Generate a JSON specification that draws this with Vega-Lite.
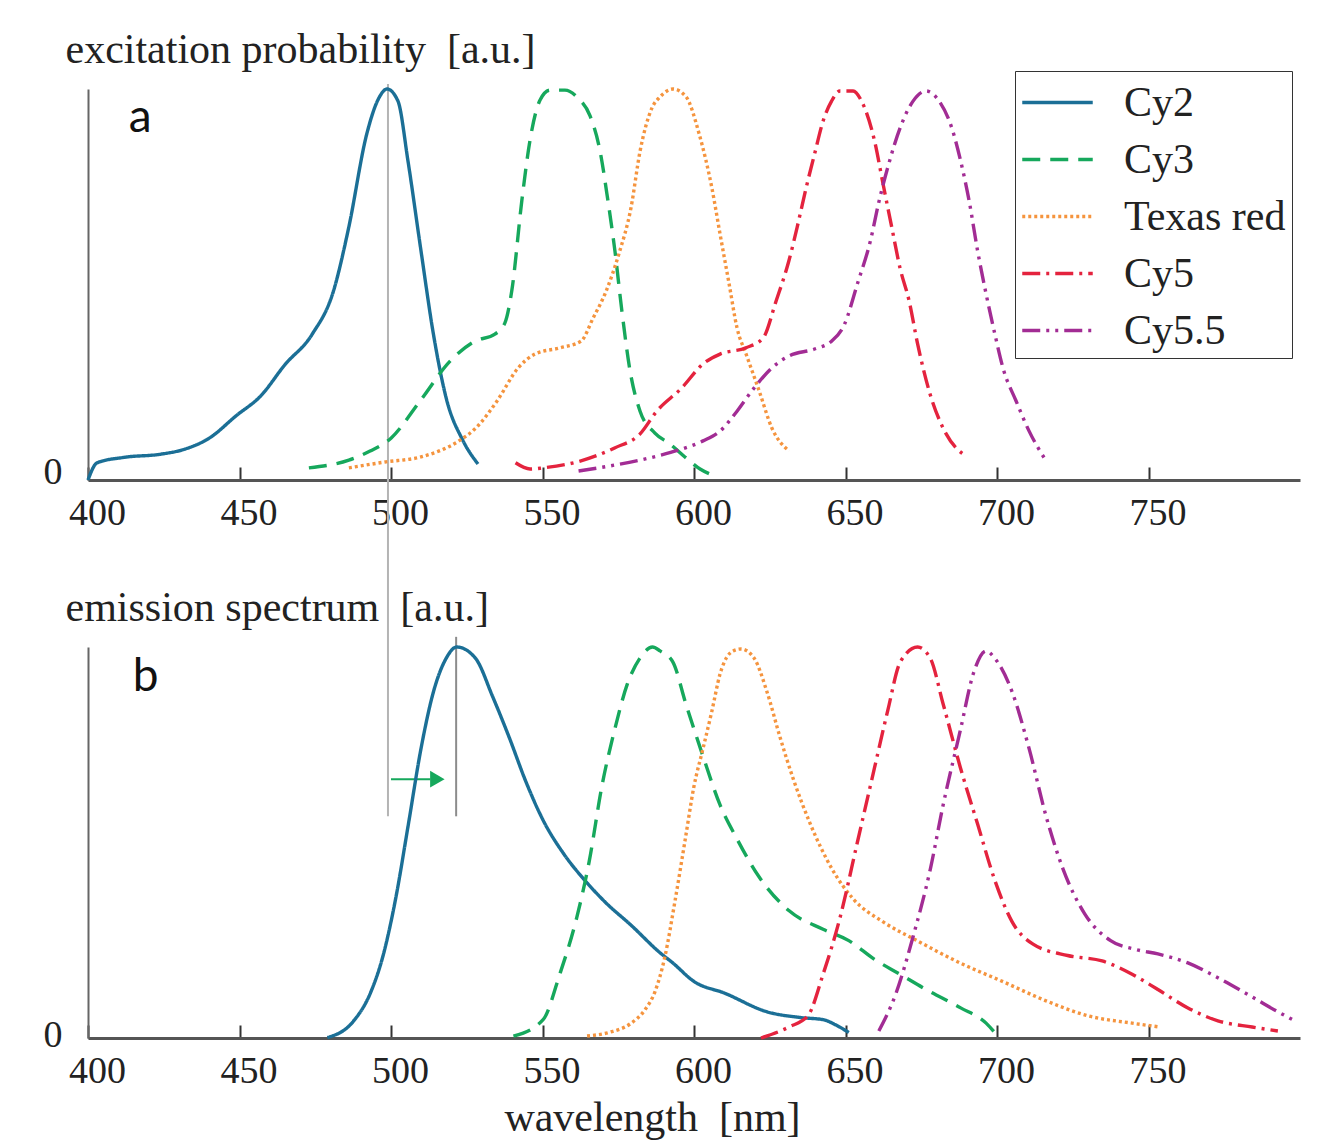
{
  "$schema": "https://vega.github.io/schema/vega-lite/v6.json",
  "background": "white",
  "padding": {"left": 43, "top": 28, "right": 10, "bottom": 10},
  "config": {
    "view": {"stroke": null},
    "font": "Liberation Serif",
    "axis": {"grid": false, "labelFont": "Liberation Serif", "labelFontSize": 38, "labelColor": "#222", "titleFont": "Liberation Serif", "titleFontSize": 42, "titleFontWeight": "normal", "titleColor": "#222"}
  },
  "datasets": {
    "excitation": [
      {"dye": "Cy2", "nm": 400, "v": 0}, {"dye": "Cy2", "nm": 403, "v": 0.044}, {"dye": "Cy2", "nm": 412, "v": 0.058}, {"dye": "Cy2", "nm": 424, "v": 0.066}, {"dye": "Cy2", "nm": 432, "v": 0.079}, {"dye": "Cy2", "nm": 440, "v": 0.107}, {"dye": "Cy2", "nm": 449, "v": 0.165}, {"dye": "Cy2", "nm": 457, "v": 0.215}, {"dye": "Cy2", "nm": 465, "v": 0.295}, {"dye": "Cy2", "nm": 474, "v": 0.373}, {"dye": "Cy2", "nm": 481, "v": 0.483}, {"dye": "Cy2", "nm": 486, "v": 0.644}, {"dye": "Cy2", "nm": 492, "v": 0.885}, {"dye": "Cy2", "nm": 496, "v": 0.977}, {"dye": "Cy2", "nm": 498.7, "v": 1.0}, {"dye": "Cy2", "nm": 502.3, "v": 0.969}, {"dye": "Cy2", "nm": 505.6, "v": 0.816}, {"dye": "Cy2", "nm": 509.9, "v": 0.586}, {"dye": "Cy2", "nm": 514, "v": 0.373}, {"dye": "Cy2", "nm": 518.2, "v": 0.21}, {"dye": "Cy2", "nm": 523.8, "v": 0.1}, {"dye": "Cy2", "nm": 528.7, "v": 0.041},
      {"dye": "Cy3", "nm": 472.9, "v": 0.031}, {"dye": "Cy3", "nm": 486.1, "v": 0.051}, {"dye": "Cy3", "nm": 493.1, "v": 0.074}, {"dye": "Cy3", "nm": 500, "v": 0.107}, {"dye": "Cy3", "nm": 509.6, "v": 0.202}, {"dye": "Cy3", "nm": 519.5, "v": 0.304}, {"dye": "Cy3", "nm": 527.7, "v": 0.355}, {"dye": "Cy3", "nm": 534.3, "v": 0.373}, {"dye": "Cy3", "nm": 537.6, "v": 0.402}, {"dye": "Cy3", "nm": 539.9, "v": 0.486}, {"dye": "Cy3", "nm": 543.2, "v": 0.716}, {"dye": "Cy3", "nm": 545.9, "v": 0.87}, {"dye": "Cy3", "nm": 549.2, "v": 0.972}, {"dye": "Cy3", "nm": 552.5, "v": 0.997}, {"dye": "Cy3", "nm": 557.4, "v": 0.997}, {"dye": "Cy3", "nm": 561.7, "v": 0.977}, {"dye": "Cy3", "nm": 565.7, "v": 0.931}, {"dye": "Cy3", "nm": 569, "v": 0.841}, {"dye": "Cy3", "nm": 571.6, "v": 0.714}, {"dye": "Cy3", "nm": 573.9, "v": 0.586}, {"dye": "Cy3", "nm": 576.2, "v": 0.432}, {"dye": "Cy3", "nm": 578.9, "v": 0.279}, {"dye": "Cy3", "nm": 582.2, "v": 0.176}, {"dye": "Cy3", "nm": 587.1, "v": 0.12}, {"dye": "Cy3", "nm": 592.1, "v": 0.092}, {"dye": "Cy3", "nm": 597, "v": 0.059}, {"dye": "Cy3", "nm": 602, "v": 0.028}, {"dye": "Cy3", "nm": 605.9, "v": 0.013},
      {"dye": "Texas red", "nm": 486.1, "v": 0.031}, {"dye": "Texas red", "nm": 498, "v": 0.046}, {"dye": "Texas red", "nm": 509.9, "v": 0.059}, {"dye": "Texas red", "nm": 522.4, "v": 0.1}, {"dye": "Texas red", "nm": 528, "v": 0.133}, {"dye": "Texas red", "nm": 535, "v": 0.202}, {"dye": "Texas red", "nm": 541.9, "v": 0.286}, {"dye": "Texas red", "nm": 547.5, "v": 0.322}, {"dye": "Texas red", "nm": 555.8, "v": 0.338}, {"dye": "Texas red", "nm": 562.7, "v": 0.355}, {"dye": "Texas red", "nm": 566.7, "v": 0.414}, {"dye": "Texas red", "nm": 571, "v": 0.483}, {"dye": "Texas red", "nm": 575.2, "v": 0.578}, {"dye": "Texas red", "nm": 579.2, "v": 0.696}, {"dye": "Texas red", "nm": 582.2, "v": 0.841}, {"dye": "Texas red", "nm": 586.1, "v": 0.951}, {"dye": "Texas red", "nm": 588.8, "v": 0.98}, {"dye": "Texas red", "nm": 593.1, "v": 1.0}, {"dye": "Texas red", "nm": 597.4, "v": 0.98}, {"dye": "Texas red", "nm": 601.7, "v": 0.885}, {"dye": "Texas red", "nm": 605.9, "v": 0.747}, {"dye": "Texas red", "nm": 608.6, "v": 0.629}, {"dye": "Texas red", "nm": 611.6, "v": 0.501}, {"dye": "Texas red", "nm": 614.2, "v": 0.389}, {"dye": "Texas red", "nm": 617.2, "v": 0.322}, {"dye": "Texas red", "nm": 621.5, "v": 0.228}, {"dye": "Texas red", "nm": 625.7, "v": 0.133}, {"dye": "Texas red", "nm": 631.4, "v": 0.074},
      {"dye": "Cy5", "nm": 541.1, "v": 0.044}, {"dye": "Cy5", "nm": 545.9, "v": 0.028}, {"dye": "Cy5", "nm": 550.2, "v": 0.031}, {"dye": "Cy5", "nm": 562.7, "v": 0.049}, {"dye": "Cy5", "nm": 573.8, "v": 0.082}, {"dye": "Cy5", "nm": 582.2, "v": 0.118}, {"dye": "Cy5", "nm": 587.7, "v": 0.176}, {"dye": "Cy5", "nm": 595.9, "v": 0.235}, {"dye": "Cy5", "nm": 603, "v": 0.297}, {"dye": "Cy5", "nm": 608.6, "v": 0.322}, {"dye": "Cy5", "nm": 617.1, "v": 0.338}, {"dye": "Cy5", "nm": 622.8, "v": 0.363}, {"dye": "Cy5", "nm": 627.1, "v": 0.458}, {"dye": "Cy5", "nm": 631.3, "v": 0.56}, {"dye": "Cy5", "nm": 634, "v": 0.645}, {"dye": "Cy5", "nm": 637, "v": 0.747}, {"dye": "Cy5", "nm": 639.8, "v": 0.834}, {"dye": "Cy5", "nm": 642.6, "v": 0.918}, {"dye": "Cy5", "nm": 645.4, "v": 0.969}, {"dye": "Cy5", "nm": 648.2, "v": 0.995}, {"dye": "Cy5", "nm": 652.5, "v": 0.995}, {"dye": "Cy5", "nm": 655.3, "v": 0.969}, {"dye": "Cy5", "nm": 659.6, "v": 0.867}, {"dye": "Cy5", "nm": 662.4, "v": 0.757}, {"dye": "Cy5", "nm": 665.3, "v": 0.645}, {"dye": "Cy5", "nm": 668, "v": 0.542}, {"dye": "Cy5", "nm": 671, "v": 0.458}, {"dye": "Cy5", "nm": 673.8, "v": 0.348}, {"dye": "Cy5", "nm": 677.9, "v": 0.22}, {"dye": "Cy5", "nm": 682.2, "v": 0.133}, {"dye": "Cy5", "nm": 686.5, "v": 0.082}, {"dye": "Cy5", "nm": 690.1, "v": 0.061},
      {"dye": "Cy5.5", "nm": 561.9, "v": 0.023}, {"dye": "Cy5.5", "nm": 572.3, "v": 0.036}, {"dye": "Cy5.5", "nm": 587.7, "v": 0.061}, {"dye": "Cy5.5", "nm": 595.9, "v": 0.079}, {"dye": "Cy5.5", "nm": 603, "v": 0.1}, {"dye": "Cy5.5", "nm": 608.6, "v": 0.125}, {"dye": "Cy5.5", "nm": 614.2, "v": 0.176}, {"dye": "Cy5.5", "nm": 619.8, "v": 0.235}, {"dye": "Cy5.5", "nm": 625.6, "v": 0.286}, {"dye": "Cy5.5", "nm": 631.3, "v": 0.317}, {"dye": "Cy5.5", "nm": 639.8, "v": 0.335}, {"dye": "Cy5.5", "nm": 645.4, "v": 0.355}, {"dye": "Cy5.5", "nm": 649.7, "v": 0.399}, {"dye": "Cy5.5", "nm": 653.9, "v": 0.501}, {"dye": "Cy5.5", "nm": 658.2, "v": 0.611}, {"dye": "Cy5.5", "nm": 661.1, "v": 0.714}, {"dye": "Cy5.5", "nm": 663.9, "v": 0.798}, {"dye": "Cy5.5", "nm": 668, "v": 0.9}, {"dye": "Cy5.5", "nm": 672.3, "v": 0.969}, {"dye": "Cy5.5", "nm": 676.6, "v": 0.995}, {"dye": "Cy5.5", "nm": 680.9, "v": 0.969}, {"dye": "Cy5.5", "nm": 685.1, "v": 0.9}, {"dye": "Cy5.5", "nm": 688, "v": 0.816}, {"dye": "Cy5.5", "nm": 690.8, "v": 0.714}, {"dye": "Cy5.5", "nm": 693.6, "v": 0.586}, {"dye": "Cy5.5", "nm": 696.4, "v": 0.476}, {"dye": "Cy5.5", "nm": 699.3, "v": 0.373}, {"dye": "Cy5.5", "nm": 702, "v": 0.286}, {"dye": "Cy5.5", "nm": 706.3, "v": 0.202}, {"dye": "Cy5.5", "nm": 710.6, "v": 0.125}, {"dye": "Cy5.5", "nm": 716.2, "v": 0.049}
    ],
    "emission": [
      {"dye": "Cy2", "nm": 479, "v": 0.001}, {"dye": "Cy2", "nm": 487.6, "v": 0.043}, {"dye": "Cy2", "nm": 493.2, "v": 0.115}, {"dye": "Cy2", "nm": 497.4, "v": 0.211}, {"dye": "Cy2", "nm": 501.5, "v": 0.355}, {"dye": "Cy2", "nm": 505.7, "v": 0.545}, {"dye": "Cy2", "nm": 509.9, "v": 0.74}, {"dye": "Cy2", "nm": 514, "v": 0.885}, {"dye": "Cy2", "nm": 518.2, "v": 0.971}, {"dye": "Cy2", "nm": 521.7, "v": 1.0}, {"dye": "Cy2", "nm": 527.9, "v": 0.971}, {"dye": "Cy2", "nm": 533.5, "v": 0.874}, {"dye": "Cy2", "nm": 539, "v": 0.769}, {"dye": "Cy2", "nm": 544.6, "v": 0.654}, {"dye": "Cy2", "nm": 550.2, "v": 0.557}, {"dye": "Cy2", "nm": 557.1, "v": 0.47}, {"dye": "Cy2", "nm": 564, "v": 0.403}, {"dye": "Cy2", "nm": 570.9, "v": 0.346}, {"dye": "Cy2", "nm": 579.3, "v": 0.288}, {"dye": "Cy2", "nm": 588.8, "v": 0.218}, {"dye": "Cy2", "nm": 593, "v": 0.192}, {"dye": "Cy2", "nm": 600.1, "v": 0.144}, {"dye": "Cy2", "nm": 610, "v": 0.115}, {"dye": "Cy2", "nm": 624.1, "v": 0.067}, {"dye": "Cy2", "nm": 635.5, "v": 0.052}, {"dye": "Cy2", "nm": 642.6, "v": 0.047}, {"dye": "Cy2", "nm": 646.9, "v": 0.033}, {"dye": "Cy2", "nm": 651.1, "v": 0.014},
      {"dye": "Cy3", "nm": 540.4, "v": 0.005}, {"dye": "Cy3", "nm": 550.2, "v": 0.047}, {"dye": "Cy3", "nm": 555.7, "v": 0.163}, {"dye": "Cy3", "nm": 561.3, "v": 0.308}, {"dye": "Cy3", "nm": 565.4, "v": 0.451}, {"dye": "Cy3", "nm": 569.6, "v": 0.644}, {"dye": "Cy3", "nm": 573.8, "v": 0.788}, {"dye": "Cy3", "nm": 577.9, "v": 0.903}, {"dye": "Cy3", "nm": 582.1, "v": 0.971}, {"dye": "Cy3", "nm": 586.3, "v": 1.0}, {"dye": "Cy3", "nm": 588.8, "v": 0.99}, {"dye": "Cy3", "nm": 593, "v": 0.962}, {"dye": "Cy3", "nm": 597.3, "v": 0.855}, {"dye": "Cy3", "nm": 603, "v": 0.72}, {"dye": "Cy3", "nm": 608.6, "v": 0.596}, {"dye": "Cy3", "nm": 614.2, "v": 0.509}, {"dye": "Cy3", "nm": 621.4, "v": 0.413}, {"dye": "Cy3", "nm": 631.3, "v": 0.326}, {"dye": "Cy3", "nm": 642.6, "v": 0.278}, {"dye": "Cy3", "nm": 651.1, "v": 0.249}, {"dye": "Cy3", "nm": 659.6, "v": 0.201}, {"dye": "Cy3", "nm": 668, "v": 0.163}, {"dye": "Cy3", "nm": 676.6, "v": 0.124}, {"dye": "Cy3", "nm": 688, "v": 0.077}, {"dye": "Cy3", "nm": 696.4, "v": 0.038}, {"dye": "Cy3", "nm": 700.7, "v": 0.0},
      {"dye": "Texas red", "nm": 564.7, "v": 0.005}, {"dye": "Texas red", "nm": 572.3, "v": 0.015}, {"dye": "Texas red", "nm": 578.9, "v": 0.036}, {"dye": "Texas red", "nm": 583.8, "v": 0.072}, {"dye": "Texas red", "nm": 587.1, "v": 0.118}, {"dye": "Texas red", "nm": 590.4, "v": 0.208}, {"dye": "Texas red", "nm": 593.7, "v": 0.349}, {"dye": "Texas red", "nm": 597, "v": 0.503}, {"dye": "Texas red", "nm": 600, "v": 0.644}, {"dye": "Texas red", "nm": 603, "v": 0.741}, {"dye": "Texas red", "nm": 605.9, "v": 0.836}, {"dye": "Texas red", "nm": 608.6, "v": 0.931}, {"dye": "Texas red", "nm": 612.9, "v": 0.99}, {"dye": "Texas red", "nm": 615.5, "v": 0.995}, {"dye": "Texas red", "nm": 619.8, "v": 0.972}, {"dye": "Texas red", "nm": 624.1, "v": 0.885}, {"dye": "Texas red", "nm": 628.4, "v": 0.769}, {"dye": "Texas red", "nm": 632.7, "v": 0.664}, {"dye": "Texas red", "nm": 638.3, "v": 0.549}, {"dye": "Texas red", "nm": 645.5, "v": 0.433}, {"dye": "Texas red", "nm": 652.5, "v": 0.356}, {"dye": "Texas red", "nm": 662.4, "v": 0.297}, {"dye": "Texas red", "nm": 673.6, "v": 0.249}, {"dye": "Texas red", "nm": 687.8, "v": 0.192}, {"dye": "Texas red", "nm": 702, "v": 0.144}, {"dye": "Texas red", "nm": 716.2, "v": 0.095}, {"dye": "Texas red", "nm": 730.4, "v": 0.056}, {"dye": "Texas red", "nm": 744.6, "v": 0.038}, {"dye": "Texas red", "nm": 753.8, "v": 0.028},
      {"dye": "Cy5", "nm": 622.1, "v": 0.0}, {"dye": "Cy5", "nm": 631.3, "v": 0.028}, {"dye": "Cy5", "nm": 637.6, "v": 0.057}, {"dye": "Cy5", "nm": 642.6, "v": 0.163}, {"dye": "Cy5", "nm": 648.2, "v": 0.308}, {"dye": "Cy5", "nm": 653.9, "v": 0.5}, {"dye": "Cy5", "nm": 659.6, "v": 0.692}, {"dye": "Cy5", "nm": 663.9, "v": 0.836}, {"dye": "Cy5", "nm": 668.1, "v": 0.962}, {"dye": "Cy5", "nm": 673.8, "v": 1.0}, {"dye": "Cy5", "nm": 678, "v": 0.971}, {"dye": "Cy5", "nm": 682.2, "v": 0.855}, {"dye": "Cy5", "nm": 687.9, "v": 0.692}, {"dye": "Cy5", "nm": 693.6, "v": 0.547}, {"dye": "Cy5", "nm": 699.3, "v": 0.403}, {"dye": "Cy5", "nm": 705, "v": 0.297}, {"dye": "Cy5", "nm": 711.9, "v": 0.24}, {"dye": "Cy5", "nm": 723.3, "v": 0.211}, {"dye": "Cy5", "nm": 734.7, "v": 0.197}, {"dye": "Cy5", "nm": 744.6, "v": 0.163}, {"dye": "Cy5", "nm": 753.1, "v": 0.124}, {"dye": "Cy5", "nm": 763, "v": 0.077}, {"dye": "Cy5", "nm": 772.9, "v": 0.044}, {"dye": "Cy5", "nm": 784.2, "v": 0.028}, {"dye": "Cy5", "nm": 792.7, "v": 0.018},
      {"dye": "Cy5.5", "nm": 661, "v": 0.018}, {"dye": "Cy5.5", "nm": 666.7, "v": 0.115}, {"dye": "Cy5.5", "nm": 672.3, "v": 0.259}, {"dye": "Cy5.5", "nm": 678, "v": 0.432}, {"dye": "Cy5.5", "nm": 682.2, "v": 0.595}, {"dye": "Cy5.5", "nm": 687.9, "v": 0.787}, {"dye": "Cy5.5", "nm": 692.2, "v": 0.932}, {"dye": "Cy5.5", "nm": 696.4, "v": 0.99}, {"dye": "Cy5.5", "nm": 699.3, "v": 0.971}, {"dye": "Cy5.5", "nm": 705, "v": 0.885}, {"dye": "Cy5.5", "nm": 710.6, "v": 0.74}, {"dye": "Cy5.5", "nm": 716.2, "v": 0.567}, {"dye": "Cy5.5", "nm": 721.8, "v": 0.432}, {"dye": "Cy5.5", "nm": 729, "v": 0.317}, {"dye": "Cy5.5", "nm": 737.5, "v": 0.249}, {"dye": "Cy5.5", "nm": 746, "v": 0.226}, {"dye": "Cy5.5", "nm": 753.1, "v": 0.215}, {"dye": "Cy5.5", "nm": 763, "v": 0.192}, {"dye": "Cy5.5", "nm": 772.9, "v": 0.154}, {"dye": "Cy5.5", "nm": 784.2, "v": 0.105}, {"dye": "Cy5.5", "nm": 792.7, "v": 0.067}, {"dye": "Cy5.5", "nm": 798.3, "v": 0.044}
    ]
  },
  "bounds": "flush",
  "spacing": 167,
  "resolve": {"scale": {"color": "independent", "strokeDash": "independent"}, "legend": {"color": "independent", "strokeDash": "independent"}},
  "vconcat": [
    {
      "width": 1212,
      "height": 391,
      "layer": [
        {
          "data": {"values": [{"nm": 499, "top": 1.013, "bottom": 0}]},
          "mark": {"type": "rule", "color": "#b4b4b4", "strokeWidth": 2},
          "encoding": {"x": {"field": "nm", "type": "quantitative"}, "y": {"field": "top", "type": "quantitative"}, "y2": {"field": "bottom"}}
        },
        {
          "data": {"name": "excitation"},
          "mark": {"type": "line", "strokeWidth": 3.4, "interpolate": "monotone"},
          "encoding": {
            "x": {"field": "nm", "type": "quantitative", "scale": {"domain": [400, 800], "nice": false, "zero": false},
              "axis": {"title": null, "values": [400, 450, 500, 550, 600, 650, 700, 750], "tickSize": -13, "tickColor": "#333", "tickWidth": 2, "labelPadding": 27, "labelOffset": 9, "labelFlush": false, "domainColor": "#555", "domainWidth": 3}},
            "y": {"field": "v", "type": "quantitative", "scale": {"domain": [0, 1]},
              "axis": {"title": "excitation probability\u00a0 [a.u.]", "titleAngle": 0, "titleAlign": "left", "titleBaseline": "middle", "titleX": -23, "titleY": -40, "values": [0], "format": "d", "ticks": false, "labelPadding": 26, "labelOffset": -8, "domainColor": "#666", "domainWidth": 2}},
            "color": {"field": "dye", "type": "nominal", "scale": {"domain": ["Cy2", "Cy3", "Texas red", "Cy5", "Cy5.5"], "range": ["#1b6f96", "#16a85c", "#f5943e", "#e4233e", "#a22c94"]},
              "legend": {"title": null, "orient": "none", "legendX": 927, "legendY": -18, "symbolType": "M-1.5,0H1.5", "symbolSize": 2209, "symbolStrokeWidth": 3.4, "symbolOffset": 11, "labelOffset": 41, "labelLimit": 400, "labelFont": "Liberation Serif", "labelFontSize": 42, "labelColor": "#222", "fillColor": "white", "strokeColor": "#333", "padding": 6, "rowPadding": 10}},
            "strokeDash": {"field": "dye", "type": "nominal", "scale": {"domain": ["Cy2", "Cy3", "Texas red", "Cy5", "Cy5.5"], "range": [[1, 0], [18, 10], [3, 3], [18, 6, 3, 6], [18, 6, 3, 6, 3, 6]]},
              "legend": {"title": null, "orient": "none", "legendX": 927, "legendY": -18, "symbolType": "M-1.5,0H1.5", "symbolSize": 2209, "symbolStrokeWidth": 3.4, "symbolOffset": 11, "labelOffset": 41, "labelLimit": 400, "labelFont": "Liberation Serif", "labelFontSize": 42, "labelColor": "#222", "fillColor": "white", "strokeColor": "#333", "padding": 6, "rowPadding": 10}}
          }
        },
        {
          "data": {"values": [{"nm": 417.2, "v": 0.926, "label": "a"}]},
          "mark": {"type": "text", "font": "Lato", "fontSize": 46, "color": "#111"},
          "encoding": {"x": {"field": "nm", "type": "quantitative"}, "y": {"field": "v", "type": "quantitative"}, "text": {"field": "label"}}
        }
      ]
    },
    {
      "width": 1212,
      "height": 391,
      "layer": [
        {
          "data": {"values": [{"nm": 499, "top": 1.43, "bottom": 0.567}]},
          "mark": {"type": "rule", "strokeWidth": 2, "color": "#b4b4b4"},
          "encoding": {"x": {"field": "nm", "type": "quantitative"}, "y": {"field": "top", "type": "quantitative"}, "y2": {"field": "bottom"}}
        },
        {
          "data": {"values": [{"nm": 521.5, "top": 1.026, "bottom": 0.567}]},
          "mark": {"type": "rule", "strokeWidth": 2, "color": "#8c8c8c"},
          "encoding": {"x": {"field": "nm", "type": "quantitative"}, "y": {"field": "top", "type": "quantitative"}, "y2": {"field": "bottom"}}
        },
        {
          "data": {"values": [{"nm": 500, "nm2": 513, "v": 0.662}]},
          "mark": {"type": "rule", "color": "#16a85c", "strokeWidth": 2},
          "encoding": {"x": {"field": "nm", "type": "quantitative"}, "x2": {"field": "nm2"}, "y": {"field": "v", "type": "quantitative"}}
        },
        {
          "data": {"values": [{"nm": 515.3, "v": 0.662}]},
          "mark": {"type": "point", "shape": "triangle-right", "filled": true, "color": "#16a85c", "size": 280, "opacity": 1},
          "encoding": {"x": {"field": "nm", "type": "quantitative"}, "y": {"field": "v", "type": "quantitative"}}
        },
        {
          "data": {"name": "emission"},
          "mark": {"type": "line", "strokeWidth": 3.4, "interpolate": "monotone"},
          "encoding": {
            "x": {"field": "nm", "type": "quantitative", "scale": {"domain": [400, 800], "nice": false, "zero": false},
              "axis": {"title": "wavelength\u00a0 [nm]", "titleX": 564, "titleY": 79, "titleAlign": "center", "titleBaseline": "middle", "values": [400, 450, 500, 550, 600, 650, 700, 750], "tickSize": -13, "tickColor": "#333", "tickWidth": 2, "labelPadding": 27, "labelOffset": 9, "labelFlush": false, "domainColor": "#555", "domainWidth": 3}},
            "y": {"field": "v", "type": "quantitative", "scale": {"domain": [0, 1]},
              "axis": {"title": "emission spectrum\u00a0 [a.u.]", "titleAngle": 0, "titleAlign": "left", "titleBaseline": "middle", "titleX": -23, "titleY": -40, "values": [0], "format": "d", "ticks": false, "labelPadding": 26, "labelOffset": -3, "domainColor": "#666", "domainWidth": 2}},
            "color": {"field": "dye", "type": "nominal", "scale": {"domain": ["Cy2", "Cy3", "Texas red", "Cy5", "Cy5.5"], "range": ["#1b6f96", "#16a85c", "#f5943e", "#e4233e", "#a22c94"]}, "legend": null},
            "strokeDash": {"field": "dye", "type": "nominal", "scale": {"domain": ["Cy2", "Cy3", "Texas red", "Cy5", "Cy5.5"], "range": [[1, 0], [18, 10], [3, 3], [18, 6, 3, 6], [18, 6, 3, 6, 3, 6]]}, "legend": null}
          }
        },
        {
          "data": {"values": [{"nm": 419, "v": 0.923, "label": "b"}]},
          "mark": {"type": "text", "font": "Lato", "fontSize": 46, "color": "#111"},
          "encoding": {"x": {"field": "nm", "type": "quantitative"}, "y": {"field": "v", "type": "quantitative"}, "text": {"field": "label"}}
        }
      ]
    }
  ]
}
